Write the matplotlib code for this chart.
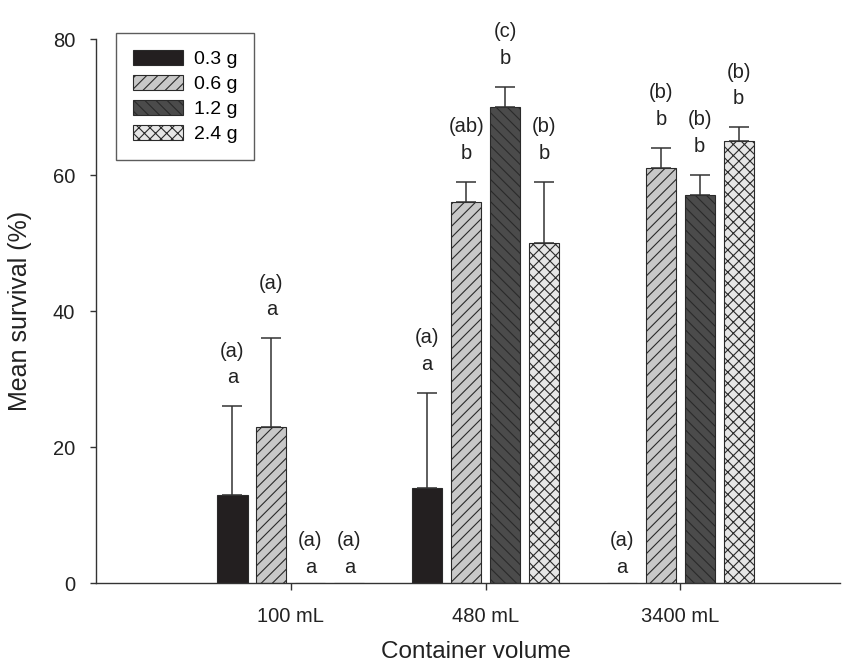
import matplotlib.pyplot as plt
import numpy as np

plt.rcParams['font.family'] = ['Liberation Sans', 'DejaVu Sans']
plt.rcParams['hatch.linewidth'] = 0.8

# Data
volumes = ['100 mL', '480 mL', '3400 mL']
sizes = ['0.3 g', '0.6 g', '1.2 g', '2.4 g']
mean_03 = [13, 14, 0]
mean_06 = [23, 56, 61]
mean_12 = [0, 70, 57]
mean_24 = [0, 50, 65]
se_03 = [13, 14, 0]
se_06 = [13, 3, 3]
se_12 = [0, 3, 3]
se_24 = [0, 9, 2]
upper_03 = ['(a)', '(a)', '(a)']
upper_06 = ['(a)', '(ab)', '(b)']
upper_12 = ['(a)', '(c)', '(b)']
upper_24 = ['(a)', '(b)', '(b)']
lower_03 = ['a', 'a', 'a']
lower_06 = ['a', 'b', 'b']
lower_12 = ['a', 'b', 'b']
lower_24 = ['a', 'b', 'b']

means = [mean_03, mean_06, mean_12, mean_24]
errs = [se_03, se_06, se_12, se_24]
uppers = [upper_03, upper_06, upper_12, upper_24]
lowers = [lower_03, lower_06, lower_12, lower_24]

# styles per seed size
faces = ['#231f20', '#c8c8c8', '#4b4b4b', '#e6e6e6']
hatches = ['', '///', '\\\\\\', 'xxx']
edge = '#2a2a2a'

fig = plt.figure(figsize=(8.66, 6.72), dpi=100)
ax = fig.add_axes([0.111, 0.1324, 0.859, 0.8095])

x = np.arange(1, len(volumes) + 1)
width = 0.155
step = 0.2

for i, lab in enumerate(sizes):
    xs = x + (i - 1.5) * step
    m = np.array(means[i], dtype=float)
    e = np.array(errs[i], dtype=float)
    ax.bar(xs, m, width, color=faces[i], edgecolor=edge, hatch=hatches[i],
           linewidth=0.8, label=lab, zorder=2)
    ok = e > 0
    ax.errorbar(xs[ok], m[ok], yerr=[np.zeros(ok.sum()), e[ok]], fmt='none',
                ecolor='#333333', elinewidth=1.1, capsize=7, capthick=1.1, zorder=3)
    for xi, mi, ei, up, lo in zip(xs, m, e, uppers[i], lowers[i]):
        top = mi + ei
        lo_y = top + (4.2 if ei > 0 else 2.3)
        ax.text(xi, lo_y, lo, ha='center', va='center', fontsize=14.5, color='#222222')
        ax.text(xi, lo_y + 3.9, up, ha='center', va='center', fontsize=14.5, color='#222222')

ax.set_xlim(0, 3.82)
ax.set_ylim(0, 80)
ax.set_yticks([0, 20, 40, 60, 80])
ax.set_xticks(x)
ax.set_xticklabels(volumes)

for side in ['top', 'right']:
    ax.spines[side].set_visible(False)
for side in ['left', 'bottom']:
    ax.spines[side].set_color('#333333')
    ax.spines[side].set_linewidth(1.0)

ax.tick_params(axis='y', direction='out', length=4, width=1, pad=11,
               labelsize=14.5, colors='#333333', labelcolor='#222222')
ax.tick_params(axis='x', direction='out', length=5, width=1, pad=12,
               labelsize=14.5, colors='#333333', labelcolor='#222222')

ax.set_ylabel('Mean survival (%)', fontsize=18, color='#222222')
ax.set_xlabel('Container volume', fontsize=17.5, color='#222222')
ax.yaxis.set_label_coords(-0.086, 0.5)
ax.xaxis.set_label_coords(0.51, -0.106)

leg = ax.legend(loc='upper left', bbox_to_anchor=(0.027, 1.011), borderaxespad=0,
                fontsize=14, handlelength=2.6, handleheight=0.82, handletextpad=0.55,
                labelspacing=0.35, borderpad=0.85, fancybox=False, frameon=True)
leg.get_frame().set_edgecolor('#333333')
leg.get_frame().set_linewidth(1.0)

plt.savefig('out.png', dpi=100)
plt.close()
